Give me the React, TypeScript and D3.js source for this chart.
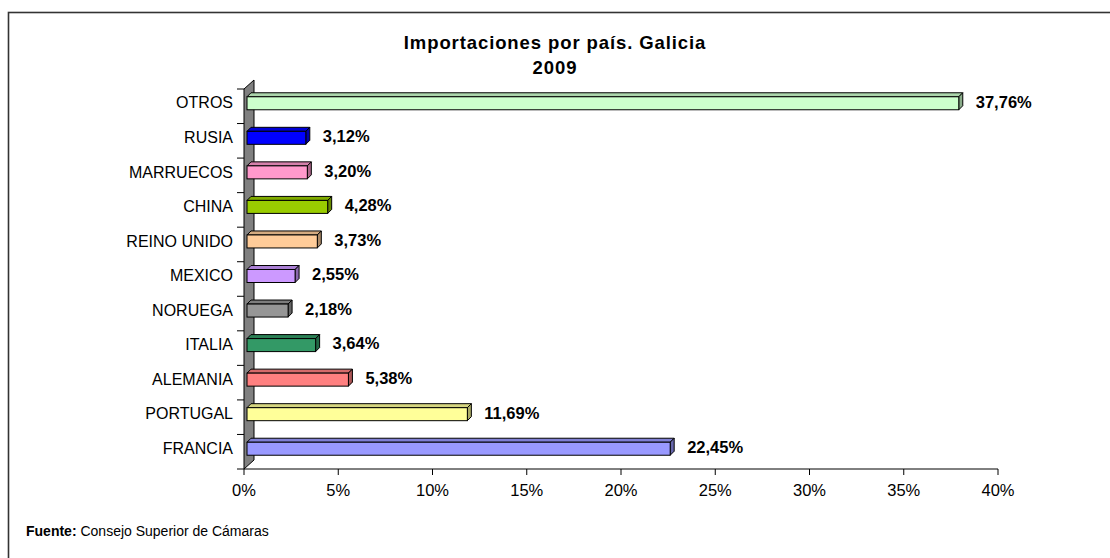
import React from "react";
import * as d3 from "d3";

const categories = ["FRANCIA", "PORTUGAL", "ALEMANIA", "ITALIA", "NORUEGA", "MEXICO", "REINO UNIDO", "CHINA", "MARRUECOS", "RUSIA", "OTROS"];
const values = [22.45, 11.69, 5.38, 3.64, 2.18, 2.55, 3.73, 4.28, 3.2, 3.12, 37.76];
const valueLabels = ["22,45%", "11,69%", "5,38%", "3,64%", "2,18%", "2,55%", "3,73%", "4,28%", "3,20%", "3,12%", "37,76%"];
const barColors = ["#9999FF", "#FFFF99", "#FF8080", "#339966", "#969696", "#CC99FF", "#FFCC99", "#99CC00", "#FF99CC", "#0000FF", "#CCFFCC"];
const xTicks = [0, 5, 10, 15, 20, 25, 30, 35, 40];
const xTickLabels = ["0%", "5%", "10%", "15%", "20%", "25%", "30%", "35%", "40%"];
const titleLines = ["Importaciones por país. Galicia", "2009"];

const W = 1110;
const H = 558;
const FONT = "'Liberation Sans', Arial, sans-serif";

export default function App() {
  const x = d3.scaleLinear().domain([0, 40]).range([244, 998]);
  const y = d3.scaleBand<string>().domain([...categories].reverse()).range([89, 469]).padding(0);
  const bw = y.bandwidth();
  const wallD = { dx: 10, dy: -9 };
  const barOff = 3;
  const barDepth = 4;
  const barH = 13;

  return (
    <div style={{ position: "absolute", left: 0, top: 0 }}>
      <svg width={W} height={H} style={{ display: "block", fontFamily: FONT }}>
        <rect x={0} y={0} width={W} height={H} fill="#fff" />
        <rect x={8.5} y={12.5} width={1300} height={700} fill="none" stroke="#333" strokeWidth={1.6} />

        {/* title */}
        <text x={555} y={49} textAnchor="middle" fontSize={18.5} fontWeight="bold" letterSpacing={0.9}>{titleLines[0]}</text>
        <text x={555} y={74} textAnchor="middle" fontSize={18.5} fontWeight="bold" letterSpacing={0.9}>{titleLines[1]}</text>

        {/* wall */}
        <polygon
          points={`${x(0)},${y.range()[1]} ${x(0)},${y.range()[0]} ${x(0) + wallD.dx},${y.range()[0] + wallD.dy} ${x(0) + wallD.dx},${y.range()[1] + wallD.dy}`}
          fill="#808080"
          stroke="#000"
          strokeWidth={1}
        />

        {/* y ticks */}
        {d3.range(categories.length + 1).map((i) => {
          const yy = 89 + i * bw;
          return <line key={"yt" + i} x1={237} x2={x(0)} y1={yy} y2={yy} stroke="#000" strokeWidth={1} />;
        })}

        {/* bars */}
        {categories.map((c, i) => {
          const cy = (y(c) as number) + bw / 2 - barOff;
          const yTop = cy - barH / 2;
          const yBot = cy + barH / 2;
          const x0 = x(0) + barOff;
          const x1 = x(values[i]) + barOff;
          const base = d3.color(barColors[i])!;
          const top = base.darker(0.5).formatHex();
          const side = base.darker(1.1).formatHex();
          const d = barDepth;
          return (
            <g key={c}>
              <polygon points={`${x0},${yTop} ${x1},${yTop} ${x1 + d},${yTop - d} ${x0 + d},${yTop - d}`} fill={top} stroke="#000" strokeWidth={1} strokeLinejoin="round" />
              <polygon points={`${x1},${yTop} ${x1 + d},${yTop - d} ${x1 + d},${yBot - d} ${x1},${yBot}`} fill={side} stroke="#000" strokeWidth={1} strokeLinejoin="round" />
              <rect x={x0} y={yTop} width={x1 - x0} height={barH} fill={barColors[i]} stroke="#000" strokeWidth={1} />
              <text x={x(values[i]) + 20} y={cy} fontSize={16.5} fontWeight="bold" dominantBaseline="middle">{valueLabels[i]}</text>
              <text x={233} y={cy + 1} fontSize={16} textAnchor="end" dominantBaseline="middle">{c}</text>
            </g>
          );
        })}

        {/* x axis */}
        <line x1={x(0)} x2={x(40)} y1={469} y2={469} stroke="#000" strokeWidth={1} />
        {xTicks.map((t, i) => (
          <g key={"xt" + t}>
            <line x1={x(t)} x2={x(t)} y1={469} y2={475} stroke="#000" strokeWidth={1} />
            <text x={x(t)} y={496} textAnchor="middle" fontSize={16.5}>{xTickLabels[i]}</text>
          </g>
        ))}

        {/* footnote */}
        <text x={26} y={536} fontSize={14}>
          <tspan fontWeight="bold">Fuente:</tspan>
          <tspan> Consejo Superior de Cámaras</tspan>
        </text>
      </svg>
    </div>
  );
}
